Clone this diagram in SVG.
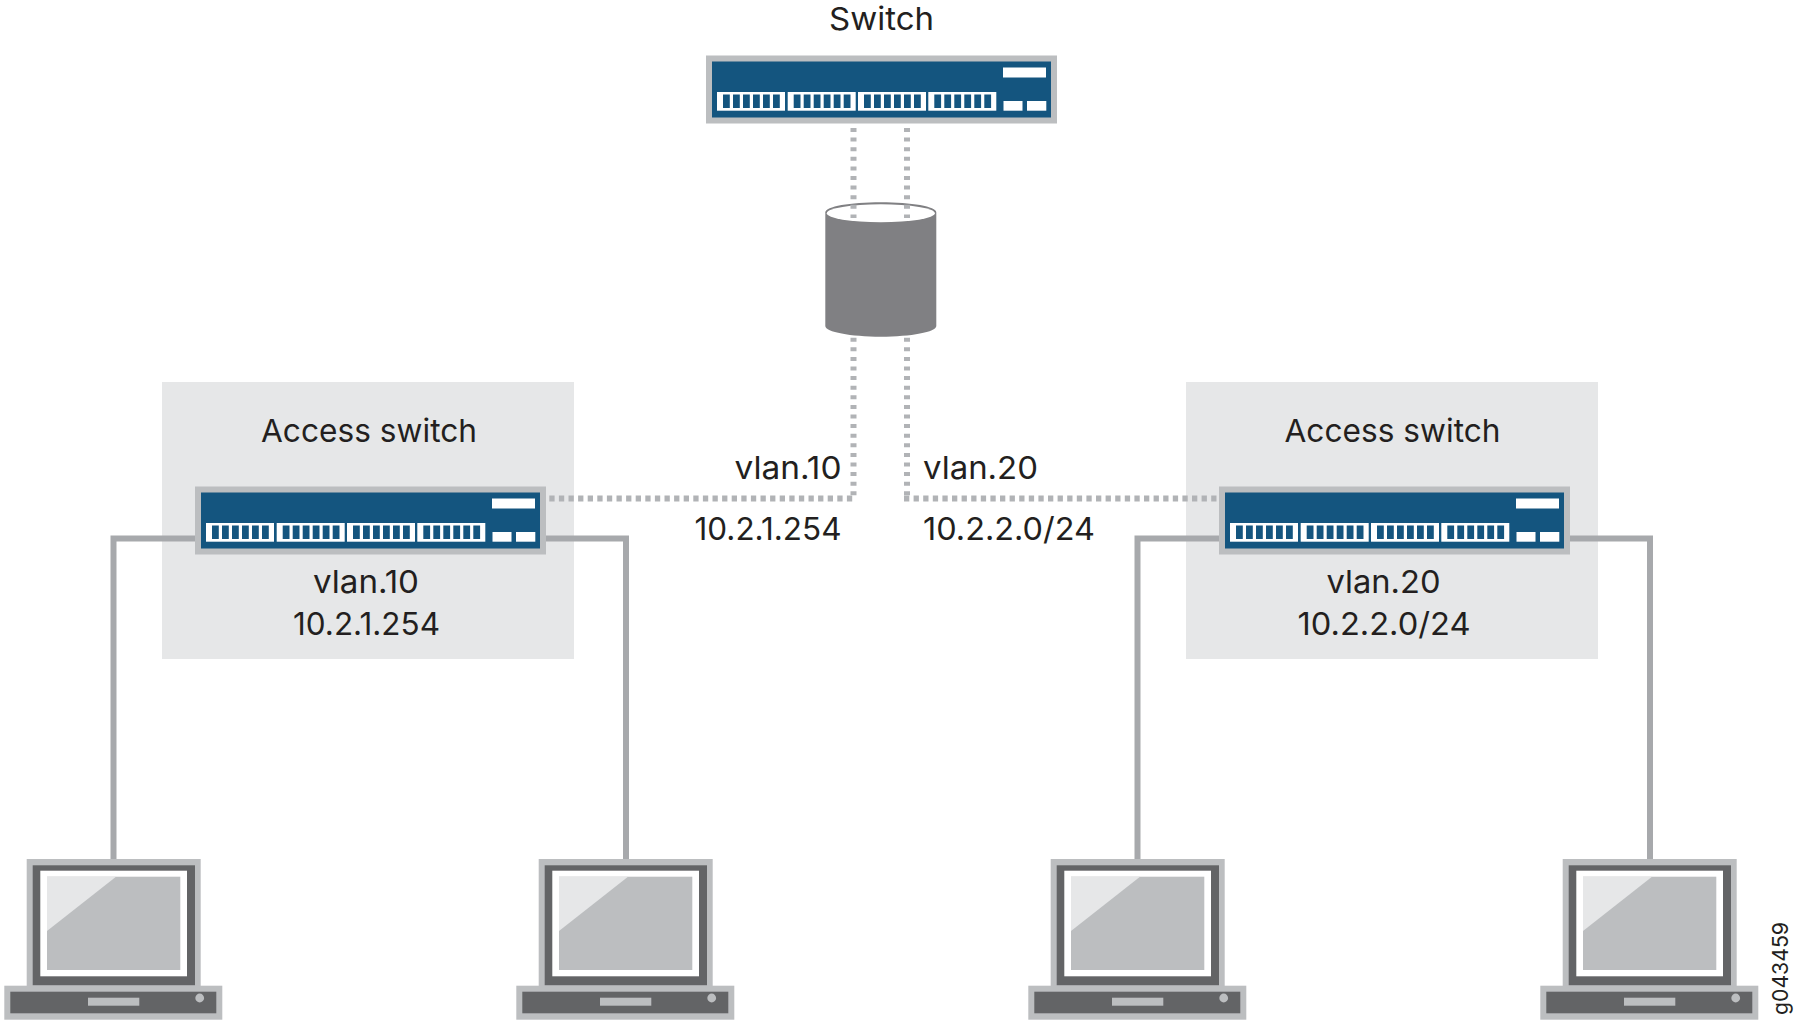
<svg xmlns="http://www.w3.org/2000/svg" width="1800" height="1023" viewBox="0 0 1800 1023">
<style>
text{font-family:Inter,"Open Sans","Liberation Sans",sans-serif;fill:#231f20;font-size:31.500px}
.m{text-anchor:middle}
.wire{fill:none;stroke:#a7a9ac;stroke-width:6}
.dot{fill:none;stroke:#b1b3b6;stroke-width:6;stroke-dasharray:4 5.6}
.doth{stroke-dasharray:5.300 4.300}
.panel{fill:#e6e7e8}
</style>
<defs>
<g id="sw">
<rect x="0" y="0" width="351" height="68" fill="#bcbec0"/>
<rect x="6" y="6" width="339" height="56" fill="#14557f"/>
<rect x="297" y="12" width="43" height="10" fill="#fff"/>
<rect x="297.500" y="45.500" width="19" height="9.700" fill="#fff"/>
<rect x="321" y="45.500" width="19.300" height="9.700" fill="#fff"/>
<g id="pg">
<rect x="11" y="36.500" width="68" height="18.700" fill="#fff"/>
<path fill="#14557f" d="M17 39h6.800v13.500h-6.800zM27 39h6.800v13.500h-6.800zM37 39h6.800v13.500h-6.800zM47 39h6.800v13.500h-6.800zM57 39h6.800v13.500h-6.800zM67 39h6.800v13.500h-6.800z"/>
</g>
<use href="#pg" x="70.700"/>
<use href="#pg" x="141"/>
<use href="#pg" x="211.300"/>
</g>
<g id="lap">
<rect x="26.700" y="859" width="174" height="127" fill="#bcbec0"/>
<rect x="32.700" y="865.300" width="162.300" height="120" fill="#636466"/>
<rect x="40.300" y="870.700" width="146.700" height="105.600" fill="#fff"/>
<rect x="47" y="876.700" width="133.300" height="93.300" fill="#bcbec0"/>
<polygon points="47,876.700 116,876.700 47,931" fill="#e6e7e8"/>
<rect x="4.300" y="985.700" width="218" height="34" fill="#bcbec0"/>
<rect x="10.300" y="991.700" width="206" height="21.600" fill="#636466"/>
<rect x="88" y="997.700" width="51.300" height="8" fill="#bcbec0"/>
<circle cx="199.700" cy="998" r="4.400" fill="#bcbec0"/>
</g>
</defs>
<g id="panel-left"><rect class="panel" x="162" y="382" width="412" height="277"/></g>
<g id="panel-right"><rect class="panel" x="1186" y="382" width="412" height="277"/></g>
<g id="cylinder">
<path fill="#808083" d="M825.300 212.500C825.300 206.500 850 202.300 880.800 202.300S936.300 206.500 936.300 212.500V326C936.300 332 911 336.700 880.800 336.700S825.300 332 825.300 326Z"/>
<ellipse cx="880.800" cy="213.300" rx="54" ry="9" fill="#fff"/>
</g>
<g id="connectors">
<path class="dot" d="M853.500 128V218M907 128V218"/>
<path class="dot" d="M853.500 337.700V501M907 337.700V501"/>
<path class="dot doth" d="M549.300 498.500H856.500M904 498.500H1218"/>
<path class="wire" d="M195 538.500H113.500V860"/>
<path class="wire" d="M546 538.500H626V860"/>
<path class="wire" d="M1219 538.500H1137.500V860"/>
<path class="wire" d="M1570 538.500H1650V860"/>
</g>
<g id="switch-top"><use href="#sw" x="706" y="55.500"/><text class="m" x="881.500" y="30" textLength="105" lengthAdjust="spacingAndGlyphs">Switch</text></g>
<g id="access-left"><use href="#sw" x="195" y="486.500"/><text class="m" x="369" y="442" textLength="216" lengthAdjust="spacingAndGlyphs">Access switch</text><text class="m" x="366" y="593" textLength="106" lengthAdjust="spacingAndGlyphs">vlan.10</text><text class="m" x="366.500" y="635" textLength="147" lengthAdjust="spacingAndGlyphs">10.2.1.254</text></g>
<g id="access-right"><use href="#sw" x="1219" y="486.500"/><text class="m" x="1392.500" y="442" textLength="216" lengthAdjust="spacingAndGlyphs">Access switch</text><text class="m" x="1383.500" y="593" textLength="114" lengthAdjust="spacingAndGlyphs">vlan.20</text><text class="m" x="1384" y="635" textLength="173" lengthAdjust="spacingAndGlyphs">10.2.2.0/24</text></g>
<g id="labels-mid">
<text x="734.500" y="479" textLength="107" lengthAdjust="spacingAndGlyphs">vlan.10</text>
<text x="694.500" y="539.500" textLength="147" lengthAdjust="spacingAndGlyphs">10.2.1.254</text>
<text x="923" y="479" textLength="115" lengthAdjust="spacingAndGlyphs">vlan.20</text>
<text x="923" y="539.500" textLength="172" lengthAdjust="spacingAndGlyphs">10.2.2.0/24</text>
</g>
<g id="laptop-1"><use href="#lap"/></g>
<g id="laptop-2"><use href="#lap" x="512"/></g>
<g id="laptop-3"><use href="#lap" x="1024"/></g>
<g id="laptop-4"><use href="#lap" x="1536"/></g>
<g id="figure-id"><text transform="translate(1788 1015) rotate(-90)" style="font-size:22px" textLength="93" lengthAdjust="spacingAndGlyphs">g043459</text></g>
</svg>
